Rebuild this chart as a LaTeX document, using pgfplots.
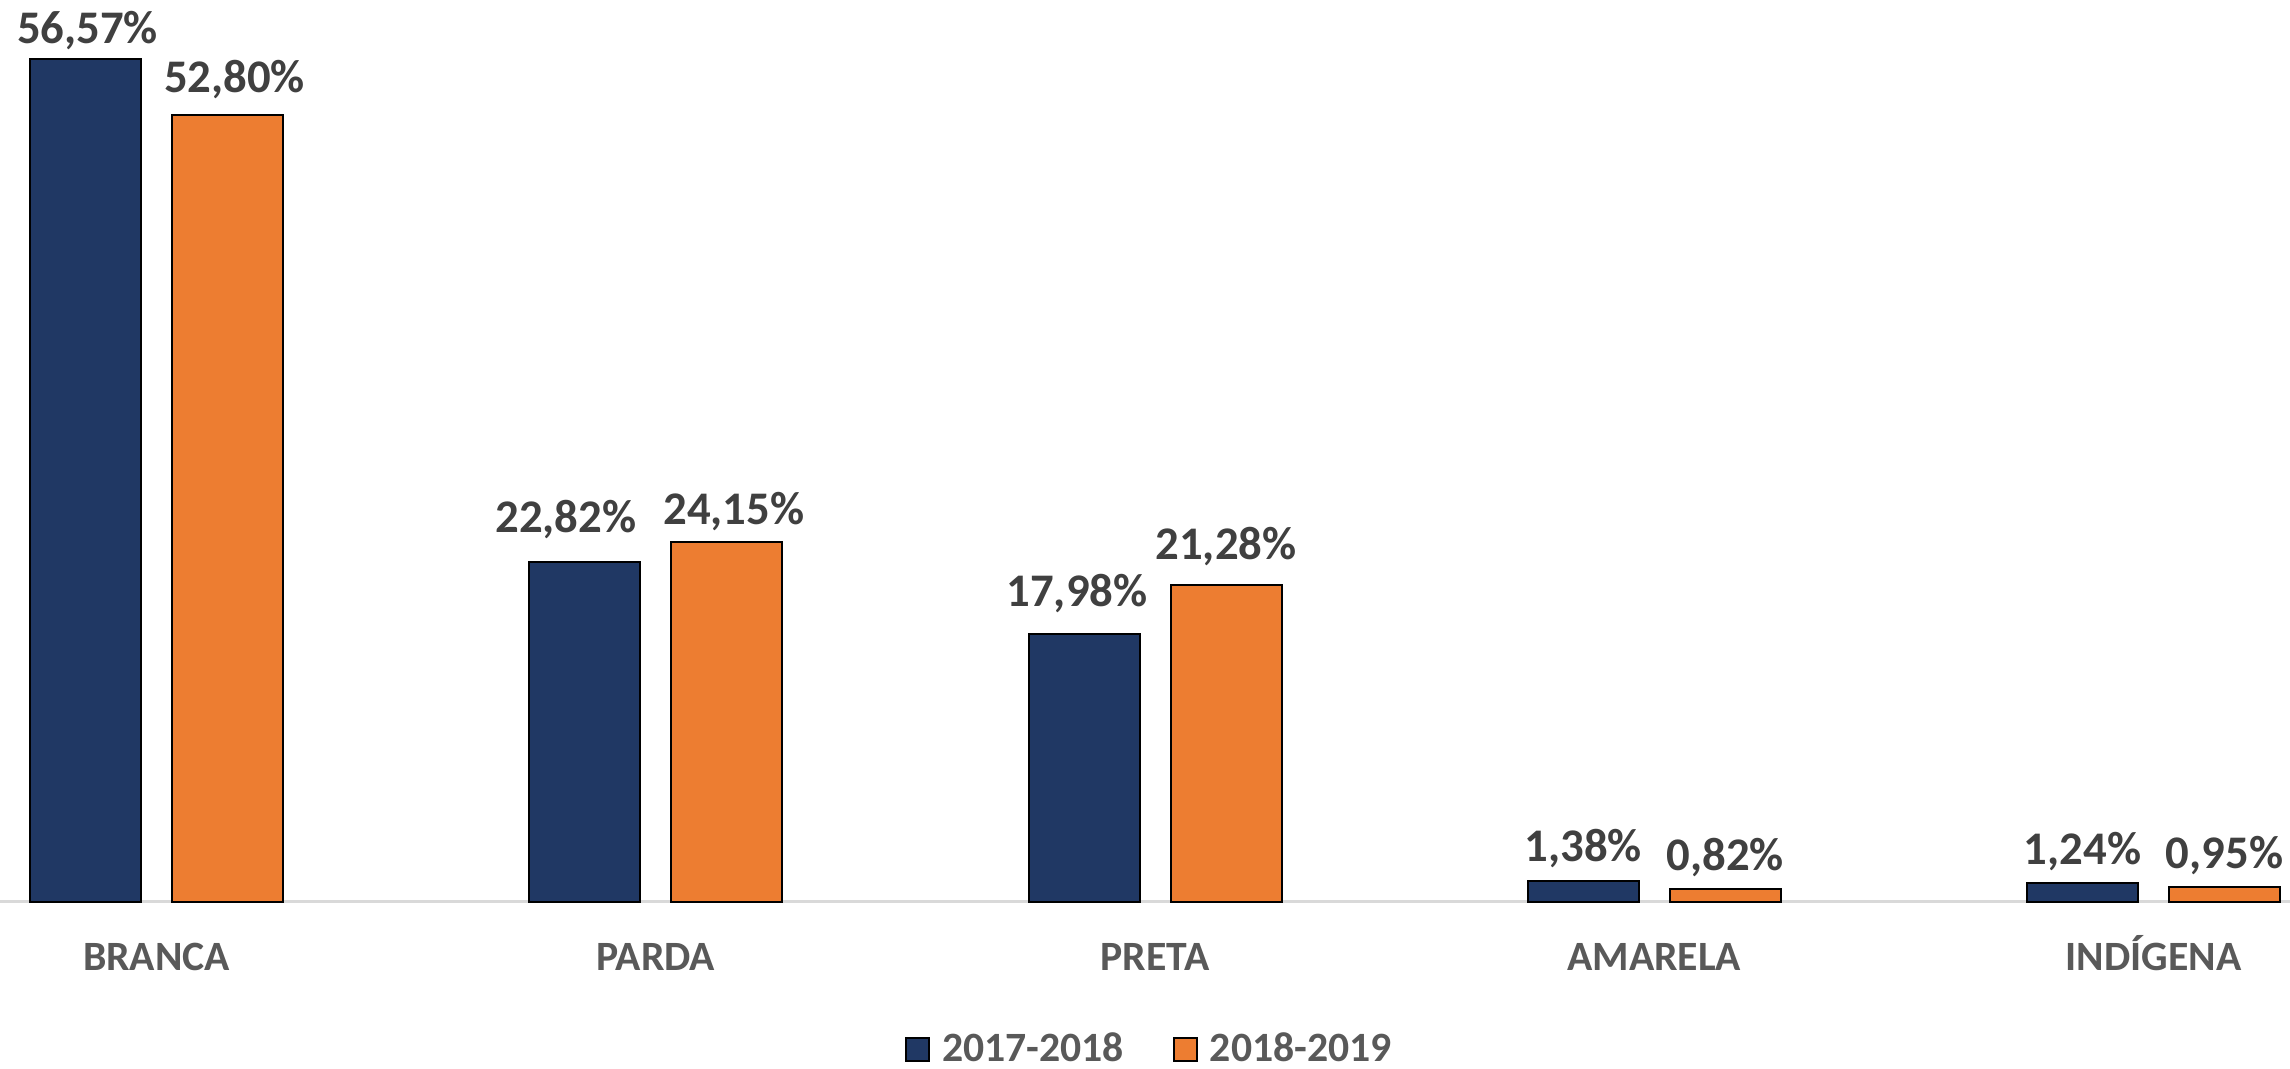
\documentclass[border=0pt]{standalone}
\usepackage{pgfplots}
\usepackage{pgfplotstable}
\pgfplotsset{compat=1.18}
\usepackage{fontspec}
\setmainfont{Carlito}
\definecolor{navy}{HTML}{203864}
\definecolor{orng}{HTML}{ED7D31}
\definecolor{lbl}{HTML}{404040}
\definecolor{catc}{HTML}{595959}
\definecolor{basec}{HTML}{D9D9D9}
% x, value, label x offset (px), label baseline gap (px)
\pgfplotstableread{
x y dx dy
0 56.57 2 16
1 22.82 -19 29
2 17.98 -7 27
3 1.38 0 19
4 1.24 0 19
}\seriesA
\pgfplotstableread{
x y dx dy
0 52.80 7 23
1 24.15 7 17
2 21.28 0 25
3 0.82 0 19
4 0.95 0 19
}\seriesB
\begin{document}
\begin{tikzpicture}
\begin{axis}[
  at={(0,0)}, anchor=north west,
  scale only axis, width=229mm, height=90.15mm,
  xmin=-0.3135, xmax=4.2734, ymin=0, ymax=60.55,
  ybar=3.1mm, bar width=11.1mm,
  clip=false,
  axis y line=none, axis x line*=bottom,
  x axis line style={draw=basec, line width=0.25mm, -},
  xtick={0,1,2,3,4},
  xticklabels={BRANCA,PARDA,PRETA,AMARELA,INDÍGENA},
  major tick length=0pt, xtick style={draw=none},
  xticklabel style={font=\fontsize{11.87pt}{14pt}\selectfont\bfseries, text=catc, anchor=base, yshift=-6.85mm, inner sep=0pt},
  nodes near coords={\pgfmathprintnumber[fixed,fixed zerofill,precision=2,use comma,assume math mode=true]{\pgfplotspointmeta}\%},
  visualization depends on={\thisrow{dx} \as \dx},
  visualization depends on={\thisrow{dy} \as \dy},
  every node near coord/.append style={font=\fontsize{13.3pt}{15pt}\selectfont\bfseries, text=lbl, anchor=base, inner sep=0pt, xshift=\dx*0.1mm, yshift=\dy*0.1mm},
  legend columns=2,
  legend image code/.code={\draw[#1, draw=black, line width=0.2mm] (0mm,-1.15mm) rectangle (2.3mm,1.15mm);},
  legend style={at={(0.5015,-0.1647)}, anchor=center, draw=none, fill=none,
    font=\fontsize{11.87pt}{14pt}\selectfont\bfseries, text=catc,
    nodes={inner sep=0pt},
    /tikz/every even column/.append style={column sep=4.9mm},
    /tikz/every odd column/.append style={column sep=1.2mm}},
]
\addplot[fill=navy, draw=black, line width=0.2mm] table[x=x, y=y] {\seriesA};
\addplot[fill=orng, draw=black, line width=0.2mm] table[x=x, y=y] {\seriesB};
\legend{2017-2018,2018-2019}
\end{axis}
\pgfresetboundingbox
\path (0,0) rectangle (229mm,-106.8mm);
\end{tikzpicture}
\end{document}
